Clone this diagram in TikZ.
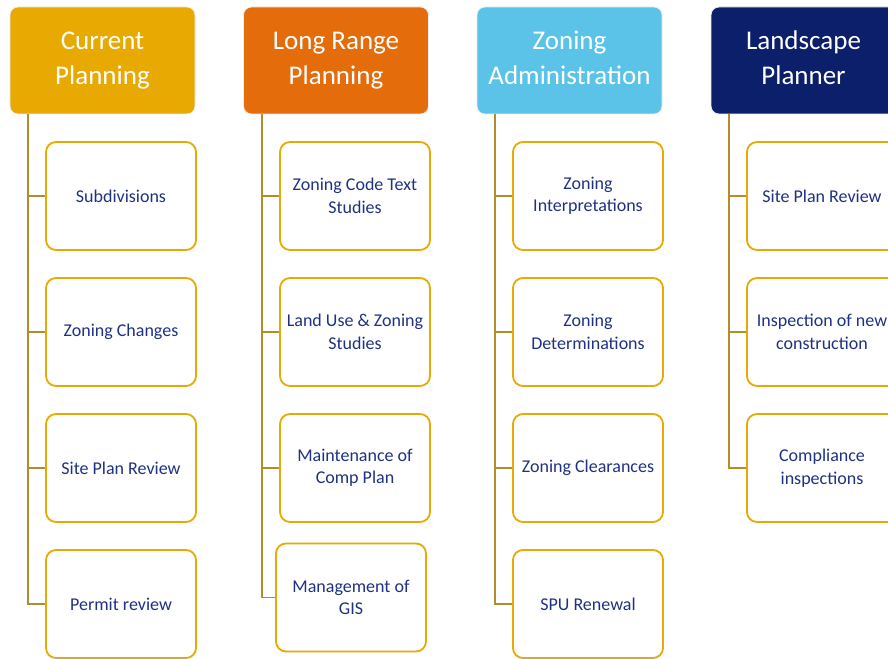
\documentclass[tikz,border=0pt]{standalone}
\usepackage{fontspec}
\setmainfont{Carlito}
\usepackage{tikz}
\usetikzlibrary{positioning}

\definecolor{gold}{HTML}{E8A902}
\definecolor{rust}{HTML}{E46C0A}
\definecolor{sky}{HTML}{5BC3E8}
\definecolor{navy}{HTML}{0B1F6B}
\definecolor{ink}{HTML}{1F3282}
\definecolor{stem}{HTML}{B38D2C}

\tikzset{
    head/.style={draw=white!85!gray, line width=0.8pt, rounded corners=8pt,
        minimum width=185pt, minimum height=107pt, align=center,
        text=white, font=\fontsize{27}{35}\selectfont},
    item/.style={draw=gold, line width=1.8pt, fill=white, rounded corners=10pt,
        minimum width=150pt, minimum height=108pt, align=center,
        text=ink, font=\fontsize{18}{22.5}\selectfont},
    link/.style={draw=stem, line width=1.8pt}
}

\begin{document}
\begin{tikzpicture}[x=1pt, y=-1pt]

    \useasboundingbox (0,0) rectangle (888,658);
    \clip (0,0) rectangle (888,658);
    \path[fill=white] (0,0) rectangle (888,658);

    % column heads
    \node[head, fill=gold] (cur) at (102.5,60.5) {\strut Current\\\strut Planning};
    \node[head, fill=rust] (lrp) at (336,60.5) {\strut Long Range\\\strut Planning};
    \node[head, fill=sky] (zad) at (569.5,60.5) {\strut Zoning\\\strut Administration};
    \node[head, fill=navy] (lsp) at (803.5,60.5) {\strut Landscape\\\strut Planner};

    % stems
    \coordinate (curtop) at (28,114);
    \coordinate (lrptop) at (262,114);
    \coordinate (zadtop) at (495,114);
    \coordinate (lsptop) at (729,114);

    % draw the boxes
    \foreach \txt [count=\i] in {Subdivisions, Zoning Changes, Site Plan Review, Permit review} {
        \node[item] (cur\i) at (121, 60+136*\i) {\txt};
        \path[link] (curtop) |- (cur\i.west);
    }
    \foreach \txt [count=\i] in {{Zoning Code Text\\Studies}, {Land Use \& Zoning\\Studies}, {Maintenance of\\Comp Plan}} {
        \node[item] (lrp\i) at (355, 60+136*\i) {\txt};
        \path[link] (lrptop) |- (lrp\i.west);
    }
    \node[item] (lrp4) at (351,597.5) {Management of\\GIS};
    \path[link] (lrptop) |- (lrp4.west);
    \foreach \txt [count=\i] in {{Zoning\\Interpretations}, {Zoning\\Determinations}, Zoning Clearances, SPU Renewal} {
        \node[item] (zad\i) at (588, 60+136*\i) {\txt};
        \path[link] (zadtop) |- (zad\i.west);
    }
    \foreach \txt [count=\i] in {Site Plan Review, {Inspection of new\\construction}, {Compliance\\inspections}} {
        \node[item] (lsp\i) at (822, 60+136*\i) {\txt};
        \path[link] (lsptop) |- (lsp\i.west);
    }

\end{tikzpicture}
\end{document}
